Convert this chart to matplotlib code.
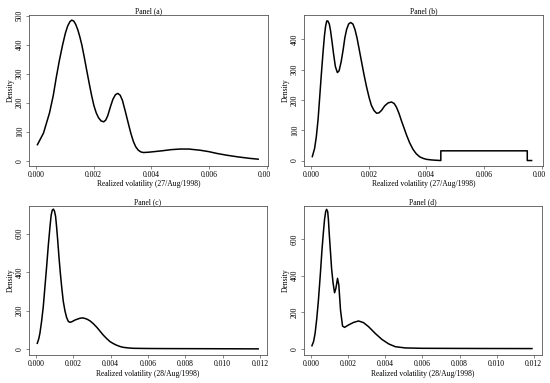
import numpy as np
import matplotlib
matplotlib.use("Agg")
import matplotlib.pyplot as plt
from matplotlib.transforms import Bbox, TransformedBbox

plt.rcParams["font.family"] = ["Liberation Serif", "DejaVu Serif"]

# Panel (a): density of realized volatility, 27/Aug/1998
rv_a = [0.00005, 0.00026, 0.00047, 0.00060, 0.00070, 0.00081, 0.00092, 0.00102,
        0.00110, 0.00118, 0.00124, 0.00131, 0.00138, 0.00145, 0.00152, 0.00159,
        0.00167, 0.00176, 0.00185, 0.00193, 0.00201, 0.00209, 0.00217, 0.00226,
        0.00235, 0.00242, 0.00249, 0.00258, 0.00267, 0.00276, 0.00284, 0.00292,
        0.00300, 0.00310, 0.00320, 0.00329, 0.00338, 0.00346, 0.00355, 0.00364,
        0.00373, 0.00390, 0.00410, 0.00438, 0.00470, 0.00500, 0.00530, 0.00569,
        0.00600, 0.00627, 0.00660, 0.00700, 0.00740, 0.00771]
dens_a = [55, 95, 165, 225, 285, 345, 398, 440,
          465, 480, 485, 482, 470, 452, 428, 400,
          360, 312, 265, 225, 190, 165, 148, 137,
          134, 140, 155, 185, 212, 228, 232, 226,
          208, 170, 130, 95, 66, 48, 36, 30,
          28, 29, 31, 34, 38, 40, 40, 36,
          31, 25, 19, 13, 8, 5]

# Panel (b): same day, flat segment on the right
rv_b = [0.00004, 0.00012, 0.00018, 0.00024, 0.00029, 0.00035, 0.00041, 0.00046,
        0.00050, 0.00054, 0.00058, 0.00063, 0.00067, 0.00072, 0.00078, 0.00084,
        0.00091, 0.00097, 0.00104, 0.00111, 0.00117, 0.00123, 0.00130, 0.00137,
        0.00145, 0.00152, 0.00159, 0.00167, 0.00174, 0.00183, 0.00192, 0.00201,
        0.00209, 0.00218, 0.00227, 0.00235, 0.00244, 0.00255, 0.00267, 0.00279,
        0.00288, 0.00296, 0.00305, 0.00313, 0.00322, 0.00331, 0.00342, 0.00354,
        0.00365, 0.00377, 0.00389, 0.00400, 0.00417, 0.00432, 0.00450, 0.00450,
        0.00750, 0.00750, 0.00765]
dens_b = [13, 40, 79, 135, 200, 280, 354, 410,
          442, 460, 460, 450, 430, 395, 350, 310,
          290, 296, 325, 365, 405, 432, 450, 455,
          450, 432, 405, 365, 330, 285, 244, 208,
          182, 165, 156, 157, 165, 180, 190, 193,
          188, 176, 155, 132, 108, 84, 58, 36,
          22, 12, 7, 4, 2, 1, 0, 32,
          32, 0, 0]

# Panel (c): 28/Aug/1998
rv_c = [0.00007, 0.00015, 0.00021, 0.00030, 0.00039, 0.00048, 0.00057, 0.00066,
        0.00075, 0.00081, 0.00087, 0.00093, 0.00099, 0.00105, 0.00110, 0.00116,
        0.00123, 0.00130, 0.00138, 0.00146, 0.00155, 0.00164, 0.00173, 0.00182,
        0.00192, 0.00209, 0.00235, 0.00249, 0.00263, 0.00276, 0.00290, 0.00307,
        0.00325, 0.00343, 0.00360, 0.00378, 0.00396, 0.00415, 0.00432, 0.00451,
        0.00468, 0.00494, 0.00521, 0.00600, 0.00700, 0.00880, 0.01050, 0.01190]
dens_c = [31, 55, 83, 145, 221, 325, 429, 540,
          637, 695, 722, 728, 718, 690, 640, 570,
          480, 400, 320, 250, 200, 165, 145, 140,
          143, 152, 161, 163, 160, 155, 147, 133,
          115, 94, 74, 56, 40, 29, 21, 14,
          10, 7, 5, 4, 3.5, 3, 2.5, 2]

# Panel (d)
rv_d = [0.00004, 0.00013, 0.00021, 0.00030, 0.00039, 0.00049, 0.00058, 0.00065,
        0.00072, 0.00078, 0.00083, 0.00089, 0.00093, 0.00097, 0.00104, 0.00110,
        0.00118, 0.00126, 0.00133, 0.00142, 0.00149, 0.00158, 0.00169, 0.00180,
        0.00201, 0.00228, 0.00255, 0.00282, 0.00309, 0.00345, 0.00381, 0.00418,
        0.00453, 0.00507, 0.00600, 0.00900, 0.01190]
dens_d = [16, 40, 84, 165, 267, 405, 541, 630,
          710, 752, 765, 752, 705, 635, 530, 439,
          360, 307, 331, 386, 349, 212, 124, 117,
          130, 144, 152, 143, 121, 84, 51, 26,
          11, 4, 2, 1, 0.5]

titles = ["Panel (a)", "Panel (b)", "Panel (c)", "Panel (d)"]
xlabels = ["Realized volatility (27/Aug/1998)", "Realized volatility (27/Aug/1998)",
           "Realized volatility (28/Aug/1998)", "Realized volatility (28/Aug/1998)"]
xticks_top = [0.000, 0.002, 0.004, 0.006, 0.008]
xticks_bot = [0.000, 0.002, 0.004, 0.006, 0.008, 0.010, 0.012]

fig = plt.figure(figsize=(5.5, 3.83), dpi=100)

# axes rectangles in figure fractions (left, bottom, width, height)
rects = [
    (0.0527, 0.567, 0.4345, 0.394),
    (0.553, 0.567, 0.4345, 0.394),
    (0.0527, 0.073, 0.4327, 0.389),
    (0.553, 0.073, 0.4327, 0.389),
]
xlims = [(-0.000243, 0.00805), (-0.000243, 0.00805),
         (-0.000375, 0.01237), (-0.00038, 0.01245)]
ylims = [(-18, 503), (-17.5, 480), (-30, 744), (-35, 783)]
yticks = [[0, 100, 200, 300, 400, 500], [0, 100, 200, 300, 400],
          [0, 200, 400, 600], [0, 200, 400, 600]]
series = [(rv_a, dens_a), (rv_b, dens_b), (rv_c, dens_c), (rv_d, dens_d)]

fs = 5.5
for i, (x, y) in enumerate(series):
    ax = fig.add_axes(rects[i])
    ax.plot(x, y, color="black", lw=1.1, solid_joinstyle="round")
    ax.set_xlim(*xlims[i])
    ax.set_ylim(*ylims[i])
    xt = xticks_top if i < 2 else xticks_bot
    ax.set_xticks(xt)
    ax.set_xticklabels([f"{v:.3f}" for v in xt])
    ax.set_yticks(yticks[i])
    ax.set_yticklabels([str(v) for v in yticks[i]], rotation=90, va="center")
    ax.tick_params(direction="out", length=2.2, width=0.5, labelsize=fs,
                   pad=1.5, color="#555555")
    for s in ax.spines.values():
        s.set_linewidth(0.6)
        s.set_color("#555555")
    ax.set_title(titles[i], fontsize=fs, pad=1.5)
    ax.set_xlabel(xlabels[i], fontsize=fs, labelpad=1)
    ax.set_ylabel("Density", fontsize=fs, labelpad=1)

    # x tick labels are cut just past the right edge of the plot box
    r = rects[i]
    clip = TransformedBbox(Bbox([[0, 0], [r[0] + r[2] + 0.004, 1]]), fig.transFigure)
    for t in ax.xaxis.get_major_ticks():
        t.label1.set_clip_box(clip)
        t.label1.set_clip_on(True)

fig.savefig("out.png", dpi=100)
